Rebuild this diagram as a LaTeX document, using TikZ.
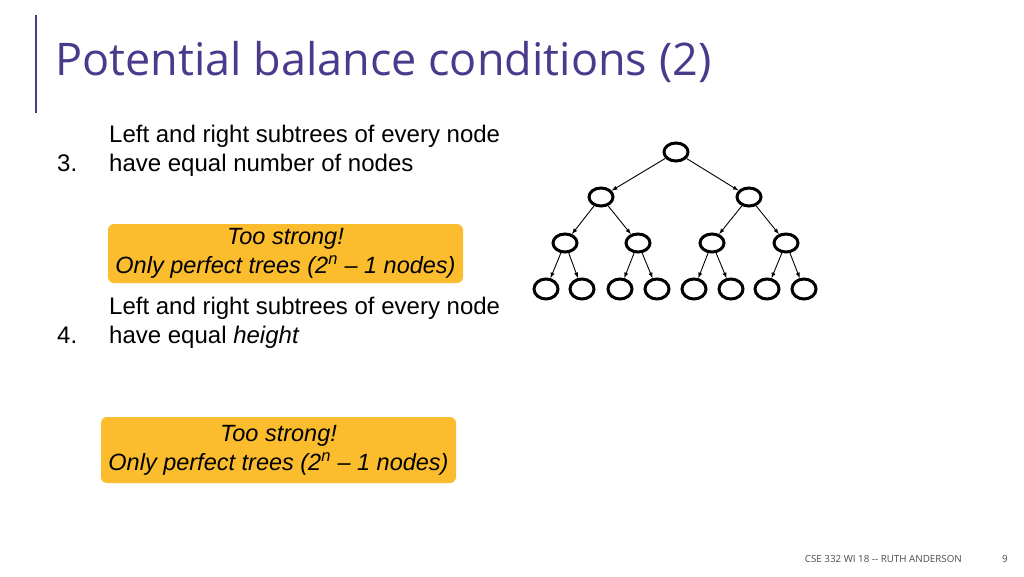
\documentclass[tikz,border=0pt]{standalone}
\usepackage{fontspec}
\setmainfont{Liberation Sans}
\newfontfamily\titlefont{Open Sans}
\usetikzlibrary{arrows,shapes,calc}
\definecolor{titlepurple}{HTML}{4B3A8C}
\definecolor{boxyellow}{HTML}{FBBD2E}

\begin{document}
\begin{tikzpicture}[x=1pt,y=-1pt]
\tikzstyle{tnode}=[ellipse, line width=3pt, draw=black, minimum width=24pt, minimum height=18pt, inner sep=0pt]
\tikzstyle{leaf}=[tnode, minimum height=20pt]
\tikzstyle{connect}=[-latex, line width=0.9pt]
\tikzstyle{note}=[rectangle, rounded corners=6pt, fill=boxyellow, minimum width=355pt, align=center, font=\fontsize{23.5}{29}\selectfont\itshape, inner sep=2pt]
\tikzstyle{body}=[anchor=base west, align=left, font=\fontsize{24}{29}\selectfont, inner sep=0pt]

  \useasboundingbox (0,0) rectangle (1024,576);
  \fill[white] (0,0) rectangle (1024,576);

  % title
  \draw[titlepurple, line width=1.5pt] (36,15) -- (36,113);
  \node[anchor=west, text=titlepurple, font=\titlefont\fontsize{45}{50}\selectfont, inner sep=0pt] (title) at (55,62) {Potential balance conditions (2)};

  % item 3
  \node[body] (num3)  at (57,171) {3.};
  \node[body] (item3) at (109,171) {Left and right subtrees of every node\\have equal number of nodes};
  \node[note, minimum height=59pt] (note3) at (285.5,253.5) {Too strong!\\Only perfect trees (2\textsuperscript{\textit{n}} -- 1 nodes)};

  % item 4
  \node[body] (num4)  at (57,343) {4.};
  \node[body] (item4) at (109,343) {Left and right subtrees of every node\\have equal \textit{height}};
  \node[note, minimum height=66pt] (note4) at (278.5,450) {Too strong!\\Only perfect trees (2\textsuperscript{\textit{n}} -- 1 nodes)};

  % tree
  \node[tnode] (r)   at (676,152) {};
  \node[tnode] (a)   at (601,197) {};
  \node[tnode] (b)   at (749,197) {};
  \node[tnode] (aa)  at (565,243) {};
  \node[tnode] (ab)  at (638,243) {};
  \node[tnode] (ba)  at (712,243) {};
  \node[tnode] (bb)  at (786,243) {};
  \node[leaf] (l1) at (546,289) {};
  \node[leaf] (l2) at (582,289) {};
  \node[leaf] (l3) at (620,289) {};
  \node[leaf] (l4) at (657,289) {};
  \node[leaf] (l5) at (694,289) {};
  \node[leaf] (l6) at (731,289) {};
  \node[leaf] (l7) at (767,289) {};
  \node[leaf] (l8) at (804,289) {};

  \path (r) edge [connect] (a);
  \path (r) edge [connect] (b);
  \path (a) edge [connect] (aa);
  \path (a) edge [connect] (ab);
  \path (b) edge [connect] (ba);
  \path (b) edge [connect] (bb);
  \path (aa) edge [connect] (l1);
  \path (aa) edge [connect] (l2);
  \path (ab) edge [connect] (l3);
  \path (ab) edge [connect] (l4);
  \path (ba) edge [connect] (l5);
  \path (ba) edge [connect] (l6);
  \path (bb) edge [connect] (l7);
  \path (bb) edge [connect] (l8);

  % footer
  \node[anchor=east, font=\titlefont\fontsize{9.8}{12}\selectfont, text=black!70, inner sep=0pt] (footer) at (962,559) {CSE 332 WI 18 -- RUTH ANDERSON};
  \node[anchor=east, font=\titlefont\fontsize{9.8}{12}\selectfont, text=black!70, inner sep=0pt] (page) at (1008,559) {9};
\end{tikzpicture}
\end{document}
